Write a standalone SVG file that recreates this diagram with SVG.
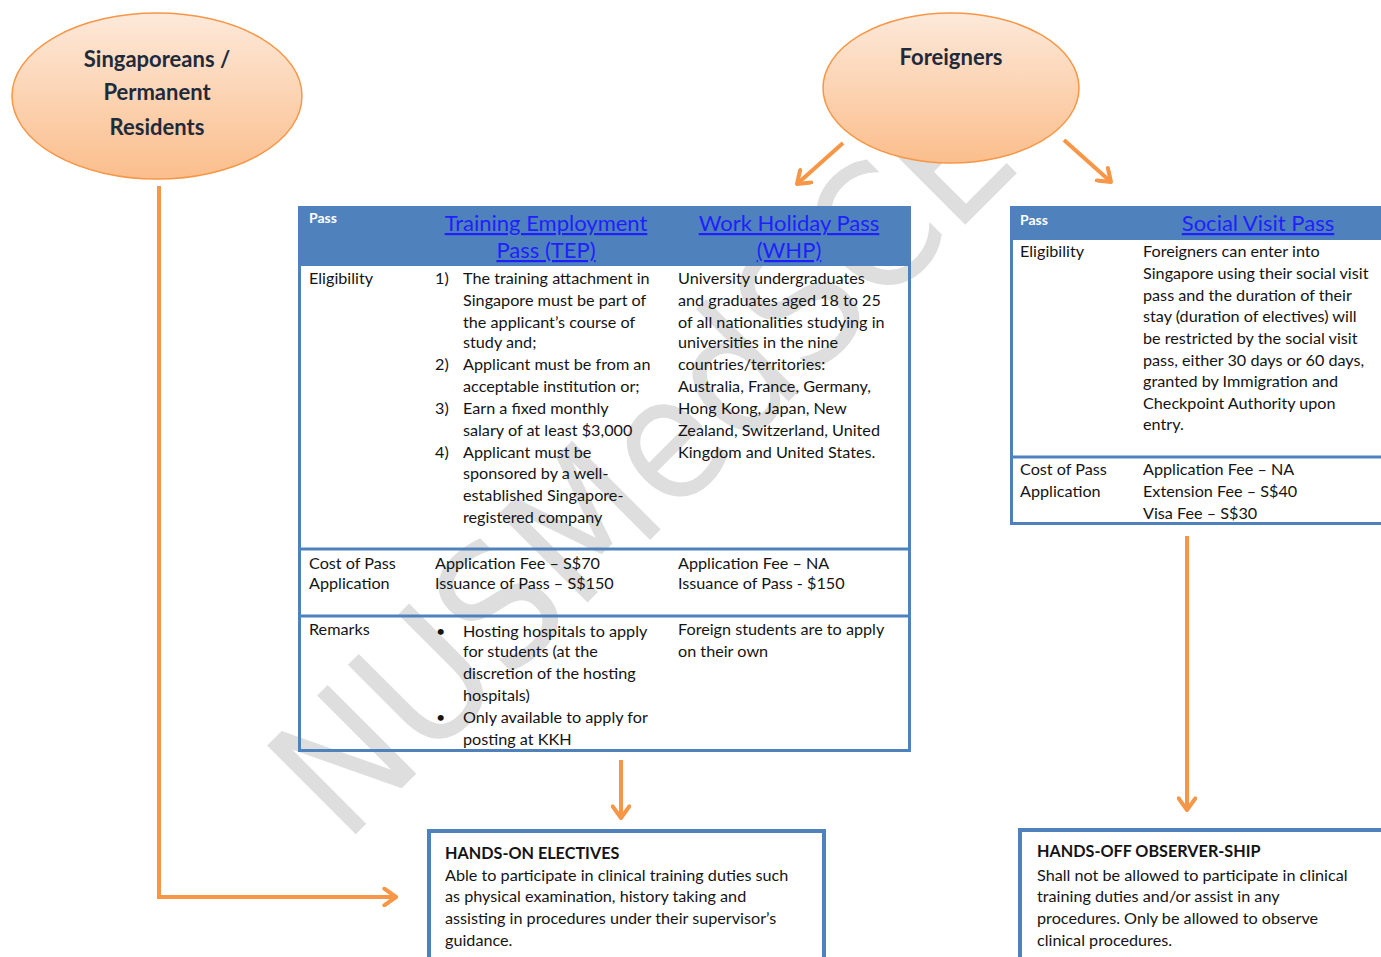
<svg xmlns="http://www.w3.org/2000/svg" width="1381" height="957" viewBox="0 0 1381 957">
<defs>
<linearGradient id="peach" x1="0" y1="0" x2="0" y2="1">
<stop offset="0" stop-color="#fde9da"/>
<stop offset="1" stop-color="#fbbe8c"/>
</linearGradient>
<marker id="chev" viewBox="0 0 12 12" refX="9" refY="6" markerWidth="5" markerHeight="5" orient="auto" markerUnits="strokeWidth">
<path d="M2,1 L9,6 L2,11" fill="none" stroke="#f79646" stroke-width="2.4" stroke-linecap="round" stroke-linejoin="round"/>
</marker>
<style>
.t{font-family:Lato,"Open Sans","Liberation Sans",sans-serif;font-size:16.2px;fill:#141414}
.b{font-weight:bold}
.el{fill:url(#peach);stroke:#f79646;stroke-width:1.5}
.et{font-family:Lato,"Open Sans","Liberation Sans",sans-serif;font-size:22px;font-weight:bold;fill:#1f2a3a;text-anchor:middle}
.frame{fill:none;stroke:#4f81bd;stroke-width:3}
.band{fill:#4f81bd}
.ph{font-family:Lato,"Liberation Sans",sans-serif;font-size:14px;font-weight:bold;fill:#ffffff}
.lk{font-family:Lato,"Open Sans","Liberation Sans",sans-serif;font-size:22px;fill:#1f1fff;text-decoration:underline;text-anchor:middle}
.box{fill:#ffffff;stroke:#4f81bd;stroke-width:4}
.c{fill:none;stroke:#f79646;stroke-width:4;marker-end:url(#chev)}
.wm{font-family:"DejaVu Sans",sans-serif;font-weight:normal;fill:#dedede}
</style>
</defs>
<rect width="1381" height="957" fill="#ffffff"/>
<g id="watermark">
<text class="wm" x="0" y="0" font-size="172" textLength="960" lengthAdjust="spacingAndGlyphs" transform="translate(345,845) rotate(-45)">NUSMedSCE</text>
</g>
<g id="node-singaporeans">
<ellipse class="el" cx="157" cy="96" rx="145" ry="83"/>
<text class="et" x="157" y="67">Singaporeans /</text>
<text class="et" x="157" y="100">Permanent</text>
<text class="et" x="157" y="135">Residents</text>
</g>
<g id="node-foreigners">
<ellipse class="el" cx="951" cy="88" rx="128" ry="75"/>
<text class="et" x="951" y="65">Foreigners</text>
</g>
<g id="node-tep-whp">
<rect class="band" x="298" y="206" width="613" height="60"/>
<rect class="frame" x="299.5" y="207.5" width="610" height="543"/>
<line x1="299" y1="549" x2="910" y2="549" stroke="#4f81bd" stroke-width="3"/>
<line x1="299" y1="616" x2="910" y2="616" stroke="#4f81bd" stroke-width="3"/>
<text class="ph" x="309" y="223">Pass</text>
<text class="lk" x="546" y="231">Training Employment</text>
<text class="lk" x="546" y="258">Pass (TEP)</text>
<text class="lk" x="789" y="231">Work Holiday Pass</text>
<text class="lk" x="789" y="258">(WHP)</text>
<text class="t" x="309" y="284">Eligibility</text>
<text class="t" x="435" y="284">1)</text>
<text class="t" x="463" y="284">The training attachment in</text>
<text class="t" x="463" y="306">Singapore must be part of</text>
<text class="t" x="463" y="328">the applicant’s course of</text>
<text class="t" x="463" y="348">study and;</text>
<text class="t" x="435" y="370">2)</text>
<text class="t" x="463" y="370">Applicant must be from an</text>
<text class="t" x="463" y="392">acceptable institution or;</text>
<text class="t" x="435" y="414">3)</text>
<text class="t" x="463" y="414">Earn a fixed monthly</text>
<text class="t" x="463" y="436">salary of at least $3,000</text>
<text class="t" x="435" y="458">4)</text>
<text class="t" x="463" y="458">Applicant must be</text>
<text class="t" x="463" y="479">sponsored by a well-</text>
<text class="t" x="463" y="501">established Singapore-</text>
<text class="t" x="463" y="523">registered company</text>
<text class="t" x="678" y="284">University undergraduates</text>
<text class="t" x="678" y="306">and graduates aged 18 to 25</text>
<text class="t" x="678" y="328">of all nationalities studying in</text>
<text class="t" x="678" y="348">universities in the nine</text>
<text class="t" x="678" y="370">countries/territories:</text>
<text class="t" x="678" y="392">Australia, France, Germany,</text>
<text class="t" x="678" y="414">Hong Kong, Japan, New</text>
<text class="t" x="678" y="436">Zealand, Switzerland, United</text>
<text class="t" x="678" y="458">Kingdom and United States.</text>
<text class="t" x="309" y="569">Cost of Pass</text>
<text class="t" x="309" y="589">Application</text>
<text class="t" x="435" y="569">Application Fee – S$70</text>
<text class="t" x="435" y="589">Issuance of Pass – S$150</text>
<text class="t" x="678" y="569">Application Fee – NA</text>
<text class="t" x="678" y="589">Issuance of Pass - $150</text>
<text class="t" x="309" y="635">Remarks</text>
<text class="t" x="436" y="637">•</text>
<text class="t" x="463" y="637">Hosting hospitals to apply</text>
<text class="t" x="463" y="657">for students (at the</text>
<text class="t" x="463" y="679">discretion of the hosting</text>
<text class="t" x="463" y="701">hospitals)</text>
<text class="t" x="436" y="723">•</text>
<text class="t" x="463" y="723">Only available to apply for</text>
<text class="t" x="463" y="745">posting at KKH</text>
<text class="t" x="678" y="635">Foreign students are to apply</text>
<text class="t" x="678" y="657">on their own</text>
</g>
<g id="node-svp">
<rect class="band" x="1010" y="206" width="380" height="34"/>
<rect class="frame" x="1011.5" y="207.5" width="380" height="316"/>
<line x1="1011" y1="457" x2="1381" y2="457" stroke="#4f81bd" stroke-width="3"/>
<text class="ph" x="1020" y="225">Pass</text>
<text class="lk" x="1258" y="231">Social Visit Pass</text>
<text class="t" x="1020" y="257">Eligibility</text>
<text class="t" x="1143" y="257">Foreigners can enter into</text>
<text class="t" x="1143" y="279">Singapore using their social visit</text>
<text class="t" x="1143" y="301">pass and the duration of their</text>
<text class="t" x="1143" y="322">stay (duration of electives) will</text>
<text class="t" x="1143" y="344">be restricted by the social visit</text>
<text class="t" x="1143" y="366">pass, either 30 days or 60 days,</text>
<text class="t" x="1143" y="387">granted by Immigration and</text>
<text class="t" x="1143" y="409">Checkpoint Authority upon</text>
<text class="t" x="1143" y="430">entry.</text>
<text class="t" x="1020" y="475">Cost of Pass</text>
<text class="t" x="1020" y="497">Application</text>
<text class="t" x="1143" y="475">Application Fee – NA</text>
<text class="t" x="1143" y="497">Extension Fee – S$40</text>
<text class="t" x="1143" y="519">Visa Fee – S$30</text>
</g>
<g id="node-hands-on">
<rect class="box" x="429" y="831" width="395" height="140"/>
<text class="t b" x="445" y="859">HANDS-ON ELECTIVES</text>
<text class="t" x="445" y="881">Able to participate in clinical training duties such</text>
<text class="t" x="445" y="902">as physical examination, history taking and</text>
<text class="t" x="445" y="924">assisting in procedures under their supervisor’s</text>
<text class="t" x="445" y="946">guidance.</text>
</g>
<g id="node-hands-off">
<rect class="box" x="1020" y="830" width="380" height="140"/>
<text class="t b" x="1037" y="857">HANDS-OFF OBSERVER-SHIP</text>
<text class="t" x="1037" y="881">Shall not be allowed to participate in clinical</text>
<text class="t" x="1037" y="902">training duties and/or assist in any</text>
<text class="t" x="1037" y="924">procedures. Only be allowed to observe</text>
<text class="t" x="1037" y="946">clinical procedures.</text>
</g>
<g id="connectors">
<path class="c" d="M159,186 L159,897 L396,897"/>
<path class="c" d="M843,143 L797,184"/>
<path class="c" d="M1064,140 L1111,182"/>
<path class="c" d="M621,760 L621,818"/>
<path class="c" d="M1187,536 L1187,810"/>
</g>
</svg>
